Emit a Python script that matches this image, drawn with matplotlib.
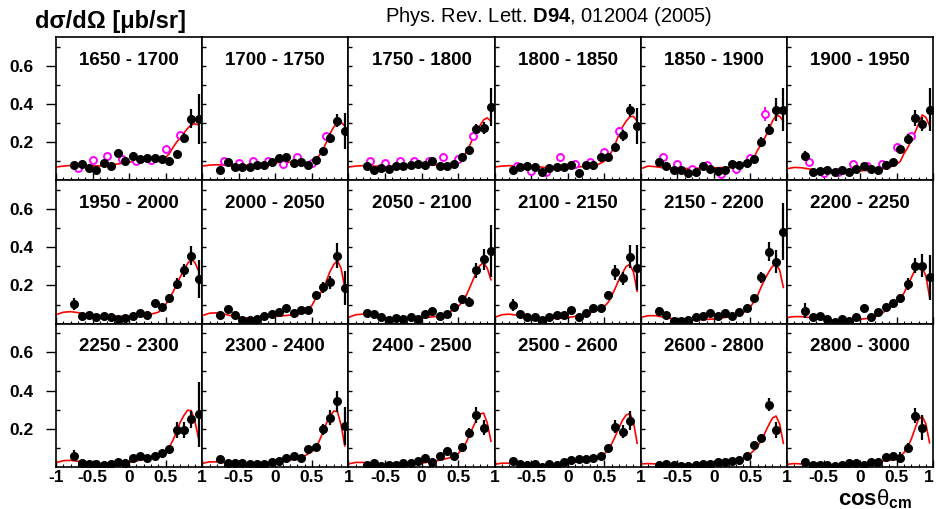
import matplotlib
matplotlib.use('Agg')
from matplotlib import pyplot as plt
import numpy as np

plt.rcParams['font.family'] = ['Liberation Sans', 'DejaVu Sans']
plt.rcParams['mathtext.fontset'] = 'custom'
plt.rcParams['mathtext.rm'] = 'Liberation Sans'
plt.rcParams['mathtext.it'] = 'Liberation Sans'
plt.rcParams['mathtext.bf'] = 'Liberation Sans:bold'
plt.rcParams['mathtext.default'] = 'regular'

bins = ['1650 - 1700', '1700 - 1750', '1750 - 1800', '1800 - 1850', '1850 - 1900', '1900 - 1950',
        '1950 - 2000', '2000 - 2050', '2050 - 2100', '2100 - 2150', '2150 - 2200', '2200 - 2250',
        '2250 - 2300', '2300 - 2400', '2400 - 2500', '2500 - 2600', '2600 - 2800', '2800 - 3000']

cos_pts = [-0.75, -0.65, -0.55, -0.45, -0.35, -0.25, -0.15, -0.05, 0.05, 0.15,
           0.25, 0.35, 0.45, 0.55, 0.65, 0.75, 0.85, 0.95]
mag_pts = [-0.7, -0.5, -0.3, -0.1, 0.1, 0.3, 0.5, 0.7]
curve_x = [-1.0, -0.9, -0.8, -0.7, -0.6, -0.5, -0.4, -0.3, -0.2, -0.1, 0.0, 0.1, 0.2,
           0.3, 0.4, 0.5, 0.55, 0.6, 0.65, 0.7, 0.75, 0.8, 0.85, 0.9, 0.95]

# black points (this measurement)
y01 = [0.082, 0.087, 0.064, 0.056, 0.090, 0.073, 0.144, 0.104, 0.130, 0.110, 0.115, 0.115, 0.110, 0.100, 0.140, 0.223, 0.322, 0.322]
y02 = [0.052, 0.096, 0.070, 0.070, 0.070, 0.078, 0.078, 0.096, 0.118, 0.122, 0.090, 0.096, 0.082, 0.108, 0.153, 0.223, 0.313, 0.258]
y03 = [0.075, 0.056, 0.066, 0.061, 0.075, 0.073, 0.078, 0.087, 0.078, 0.100, 0.075, 0.075, 0.087, 0.122, 0.157, 0.270, 0.275, 0.383]
y04 = [0.056, 0.070, 0.075, 0.070, 0.044, 0.064, 0.070, 0.070, 0.078, 0.040, 0.078, 0.082, 0.122, 0.122, 0.174, 0.235, 0.366, 0.284]
y05 = [0.096, 0.075, 0.057, 0.057, 0.040, 0.044, 0.073, 0.061, 0.049, 0.052, 0.084, 0.082, 0.090, 0.113, 0.200, 0.266, 0.371, 0.371]
y06 = [0.130, 0.044, 0.047, 0.056, 0.044, 0.052, 0.044, 0.061, 0.073, 0.061, 0.056, 0.078, 0.096, 0.162, 0.218, 0.327, 0.296, 0.371]
y07 = [0.103, 0.042, 0.047, 0.037, 0.038, 0.033, 0.024, 0.028, 0.042, 0.056, 0.047, 0.106, 0.089, 0.134, 0.210, 0.280, 0.355, 0.233]
y08 = [0.047, 0.077, 0.047, 0.021, 0.019, 0.024, 0.042, 0.050, 0.063, 0.080, 0.056, 0.073, 0.071, 0.151, 0.190, 0.216, 0.355, 0.186]
y09 = [0.054, 0.050, 0.033, 0.019, 0.030, 0.024, 0.033, 0.024, 0.050, 0.064, 0.042, 0.050, 0.089, 0.129, 0.115, 0.280, 0.338, 0.381]
y10 = [0.097, 0.050, 0.037, 0.033, 0.019, 0.033, 0.047, 0.047, 0.073, 0.033, 0.056, 0.082, 0.082, 0.151, 0.268, 0.238, 0.350, 0.294]
y11 = [0.064, 0.045, 0.016, 0.012, 0.019, 0.033, 0.038, 0.056, 0.042, 0.054, 0.038, 0.063, 0.080, 0.134, 0.242, 0.376, 0.325, 0.482]
y12 = [0.068, 0.033, 0.038, 0.024, 0.010, 0.024, 0.012, 0.037, 0.082, 0.037, 0.063, 0.085, 0.108, 0.134, 0.207, 0.303, 0.303, 0.242]
y13 = [0.059, 0.019, 0.014, 0.014, 0.010, 0.014, 0.024, 0.019, 0.045, 0.057, 0.045, 0.059, 0.071, 0.094, 0.193, 0.193, 0.249, 0.277]
y14 = [0.040, 0.019, 0.019, 0.023, 0.014, 0.014, 0.016, 0.028, 0.033, 0.045, 0.059, 0.045, 0.094, 0.103, 0.197, 0.259, 0.345, 0.214]
y15 = [0.010, 0.019, 0.007, 0.010, 0.010, 0.019, 0.019, 0.031, 0.049, 0.028, 0.057, 0.084, 0.057, 0.106, 0.179, 0.272, 0.205]
y16 = [0.031, 0.014, 0.010, 0.014, 0.002, 0.016, 0.010, 0.028, 0.037, 0.042, 0.042, 0.045, 0.059, 0.101, 0.211, 0.185, 0.242]
y17 = [0.010, 0.016, 0.010, 0.007, 0.007, 0.010, 0.014, 0.016, 0.028, 0.028, 0.031, 0.037, 0.059, 0.115, 0.153, 0.327, 0.193]
y18 = [0.028, 0.010, 0.010, 0.010, 0.007, 0.010, 0.023, 0.019, 0.010, 0.024, 0.024, 0.050, 0.057, 0.049, 0.101, 0.268, 0.205]

e01 = [0.015, 0.015, 0.012, 0.012, 0.015, 0.012, 0.018, 0.015, 0.018, 0.015, 0.015, 0.015, 0.015, 0.015, 0.02, 0.025, 0.05, 0.13]
e02 = [0.015, 0.015, 0.012, 0.012, 0.012, 0.012, 0.012, 0.015, 0.015, 0.015, 0.015, 0.015, 0.012, 0.015, 0.02, 0.025, 0.035, 0.095]
e03 = [0.012, 0.012, 0.012, 0.012, 0.012, 0.012, 0.012, 0.012, 0.012, 0.015, 0.012, 0.012, 0.012, 0.015, 0.02, 0.025, 0.03, 0.1]
e04 = [0.015, 0.012, 0.012, 0.012, 0.012, 0.012, 0.012, 0.012, 0.012, 0.012, 0.012, 0.012, 0.015, 0.015, 0.02, 0.03, 0.035, 0.095]
e05 = [0.02, 0.012, 0.012, 0.012, 0.012, 0.012, 0.012, 0.012, 0.012, 0.012, 0.012, 0.012, 0.015, 0.015, 0.025, 0.03, 0.06, 0.11]
e06 = [0.025, 0.012, 0.012, 0.012, 0.012, 0.012, 0.012, 0.012, 0.012, 0.012, 0.012, 0.012, 0.015, 0.02, 0.025, 0.04, 0.035, 0.11]
e07 = [0.03, 0.01, 0.01, 0.01, 0.01, 0.01, 0.01, 0.01, 0.01, 0.012, 0.012, 0.015, 0.015, 0.02, 0.03, 0.035, 0.05, 0.1]
e08 = [0.02, 0.015, 0.012, 0.01, 0.01, 0.01, 0.01, 0.01, 0.012, 0.012, 0.012, 0.012, 0.012, 0.02, 0.03, 0.035, 0.065, 0.09]
e09 = [0.015, 0.012, 0.01, 0.01, 0.01, 0.01, 0.01, 0.01, 0.012, 0.012, 0.012, 0.012, 0.015, 0.02, 0.025, 0.04, 0.055, 0.135]
e10 = [0.03, 0.012, 0.01, 0.01, 0.01, 0.01, 0.01, 0.01, 0.012, 0.012, 0.012, 0.015, 0.015, 0.02, 0.04, 0.035, 0.06, 0.12]
e11 = [0.025, 0.012, 0.01, 0.01, 0.01, 0.01, 0.01, 0.012, 0.01, 0.012, 0.01, 0.012, 0.015, 0.02, 0.03, 0.05, 0.06, 0.15]
e12 = [0.04, 0.012, 0.01, 0.01, 0.01, 0.01, 0.01, 0.01, 0.015, 0.01, 0.012, 0.015, 0.015, 0.02, 0.03, 0.04, 0.06, 0.12]
e13 = [0.03, 0.01, 0.01, 0.01, 0.01, 0.01, 0.01, 0.01, 0.01, 0.012, 0.01, 0.012, 0.015, 0.015, 0.04, 0.04, 0.045, 0.17]
e14 = [0.015, 0.01, 0.01, 0.01, 0.01, 0.01, 0.01, 0.01, 0.01, 0.01, 0.012, 0.01, 0.015, 0.015, 0.03, 0.04, 0.055, 0.1]
e15 = [0.01, 0.01, 0.01, 0.01, 0.01, 0.01, 0.01, 0.01, 0.012, 0.01, 0.012, 0.015, 0.012, 0.015, 0.025, 0.04, 0.04]
e16 = [0.015, 0.01, 0.01, 0.01, 0.01, 0.01, 0.01, 0.01, 0.01, 0.01, 0.01, 0.01, 0.012, 0.015, 0.035, 0.035, 0.05]
e17 = [0.01, 0.01, 0.01, 0.01, 0.01, 0.01, 0.01, 0.01, 0.01, 0.01, 0.01, 0.01, 0.012, 0.015, 0.02, 0.035, 0.04]
e18 = [0.015, 0.01, 0.01, 0.01, 0.01, 0.01, 0.01, 0.01, 0.01, 0.01, 0.01, 0.012, 0.012, 0.03, 0.025, 0.04, 0.065]

# magenta open circles (earlier data, first six bins)
m01 = [0.066, 0.108, 0.129, 0.111, 0.104, 0.108, 0.162, 0.235]
m02 = [0.100, 0.090, 0.100, 0.100, 0.087, 0.122, 0.092, 0.230]
m03 = [0.100, 0.090, 0.100, 0.100, 0.100, 0.122, 0.113, 0.230]
m04 = [0.073, 0.049, 0.044, 0.122, 0.087, 0.096, 0.148, 0.258]
m05 = [0.122, 0.084, 0.061, 0.078, 0.031, 0.061, 0.118, 0.348]
m06 = [0.096, 0.040, 0.044, 0.084, 0.075, 0.084, 0.174, 0.230]
me01 = [0.01, 0.01, 0.01, 0.01, 0.01, 0.01, 0.015, 0.02]
me02 = [0.01, 0.01, 0.01, 0.01, 0.015, 0.012, 0.012, 0.02]
me03 = [0.01, 0.01, 0.01, 0.01, 0.01, 0.012, 0.012, 0.02]
me04 = [0.01, 0.01, 0.01, 0.015, 0.01, 0.012, 0.015, 0.02]
me05 = [0.015, 0.01, 0.01, 0.01, 0.01, 0.01, 0.012, 0.035]
me06 = [0.015, 0.01, 0.01, 0.01, 0.01, 0.01, 0.015, 0.02]

# red model curves
c01 = [0.070, 0.075, 0.078, 0.078, 0.077, 0.076, 0.076, 0.078, 0.083, 0.090, 0.096, 0.102, 0.106, 0.108, 0.110, 0.120, 0.140, 0.172, 0.200, 0.223, 0.248, 0.272, 0.290, 0.296, 0.290]
c02 = [0.075, 0.080, 0.082, 0.080, 0.077, 0.076, 0.078, 0.080, 0.085, 0.090, 0.093, 0.095, 0.095, 0.093, 0.088, 0.095, 0.110, 0.130, 0.160, 0.200, 0.245, 0.280, 0.300, 0.305, 0.285]
c03 = [0.070, 0.075, 0.077, 0.076, 0.074, 0.073, 0.073, 0.075, 0.077, 0.079, 0.080, 0.081, 0.081, 0.080, 0.080, 0.090, 0.105, 0.140, 0.175, 0.218, 0.250, 0.287, 0.317, 0.327, 0.310]
c04 = [0.070, 0.075, 0.077, 0.076, 0.074, 0.072, 0.070, 0.068, 0.067, 0.067, 0.068, 0.070, 0.072, 0.075, 0.080, 0.100, 0.120, 0.150, 0.190, 0.240, 0.280, 0.310, 0.333, 0.335, 0.310]
c05 = [0.061, 0.075, 0.072, 0.066, 0.063, 0.062, 0.062, 0.063, 0.064, 0.065, 0.066, 0.067, 0.068, 0.070, 0.077, 0.095, 0.122, 0.160, 0.190, 0.225, 0.265, 0.310, 0.340, 0.335, 0.310]
c06 = [0.061, 0.068, 0.066, 0.060, 0.055, 0.052, 0.050, 0.049, 0.048, 0.049, 0.050, 0.052, 0.055, 0.060, 0.068, 0.085, 0.100, 0.140, 0.170, 0.210, 0.250, 0.296, 0.343, 0.330, 0.287]
c07 = [0.047, 0.060, 0.063, 0.058, 0.050, 0.045, 0.041, 0.039, 0.038, 0.038, 0.039, 0.041, 0.044, 0.050, 0.060, 0.100, 0.130, 0.165, 0.205, 0.245, 0.280, 0.315, 0.337, 0.320, 0.277]
c08 = [0.042, 0.055, 0.057, 0.050, 0.041, 0.034, 0.030, 0.030, 0.032, 0.035, 0.038, 0.041, 0.045, 0.050, 0.060, 0.095, 0.130, 0.150, 0.180, 0.225, 0.275, 0.310, 0.330, 0.290, 0.190]
c09 = [0.033, 0.047, 0.050, 0.047, 0.040, 0.033, 0.030, 0.029, 0.028, 0.029, 0.030, 0.034, 0.038, 0.045, 0.065, 0.090, 0.110, 0.140, 0.180, 0.225, 0.270, 0.305, 0.320, 0.290, 0.230]
c10 = [0.033, 0.047, 0.050, 0.045, 0.038, 0.030, 0.028, 0.027, 0.027, 0.029, 0.032, 0.038, 0.045, 0.055, 0.072, 0.090, 0.110, 0.145, 0.185, 0.230, 0.265, 0.300, 0.310, 0.270, 0.170]
c11 = [0.033, 0.042, 0.042, 0.035, 0.028, 0.022, 0.020, 0.019, 0.020, 0.022, 0.025, 0.030, 0.035, 0.042, 0.055, 0.090, 0.115, 0.150, 0.195, 0.235, 0.270, 0.300, 0.310, 0.280, 0.190]
c12 = [0.033, 0.037, 0.037, 0.033, 0.027, 0.021, 0.018, 0.017, 0.018, 0.020, 0.023, 0.028, 0.035, 0.055, 0.080, 0.110, 0.130, 0.160, 0.200, 0.240, 0.280, 0.298, 0.295, 0.250, 0.140]
c13 = [0.023, 0.033, 0.035, 0.030, 0.025, 0.020, 0.017, 0.016, 0.018, 0.021, 0.025, 0.032, 0.040, 0.048, 0.058, 0.080, 0.105, 0.140, 0.185, 0.235, 0.270, 0.297, 0.295, 0.240, 0.150]
c14 = [0.019, 0.027, 0.027, 0.022, 0.017, 0.014, 0.013, 0.013, 0.014, 0.017, 0.022, 0.028, 0.035, 0.045, 0.058, 0.080, 0.100, 0.135, 0.180, 0.230, 0.265, 0.293, 0.290, 0.220, 0.110]
c15 = [0.016, 0.024, 0.024, 0.020, 0.015, 0.012, 0.012, 0.012, 0.013, 0.015, 0.020, 0.026, 0.032, 0.040, 0.050, 0.070, 0.090, 0.120, 0.160, 0.205, 0.245, 0.278, 0.282, 0.230, 0.135]
c16 = [0.014, 0.020, 0.020, 0.015, 0.012, 0.011, 0.010, 0.011, 0.012, 0.015, 0.020, 0.025, 0.030, 0.038, 0.048, 0.068, 0.090, 0.120, 0.160, 0.205, 0.245, 0.272, 0.280, 0.235, 0.124]
c17 = [0.016, 0.018, 0.016, 0.013, 0.010, 0.009, 0.008, 0.009, 0.010, 0.012, 0.015, 0.019, 0.025, 0.033, 0.045, 0.070, 0.088, 0.110, 0.140, 0.180, 0.220, 0.255, 0.267, 0.225, 0.124]
c18 = [0.014, 0.018, 0.016, 0.013, 0.010, 0.009, 0.008, 0.009, 0.010, 0.012, 0.015, 0.019, 0.025, 0.030, 0.035, 0.045, 0.055, 0.075, 0.105, 0.145, 0.200, 0.250, 0.265, 0.225, 0.127]

ys = [y01, y02, y03, y04, y05, y06, y07, y08, y09, y10, y11, y12, y13, y14, y15, y16, y17, y18]
es = [e01, e02, e03, e04, e05, e06, e07, e08, e09, e10, e11, e12, e13, e14, e15, e16, e17, e18]
cs = [c01, c02, c03, c04, c05, c06, c07, c08, c09, c10, c11, c12, c13, c14, c15, c16, c17, c18]
ms = [m01, m02, m03, m04, m05, m06]
mes = [me01, me02, me03, me04, me05, me06]


def setupAxis(ax, row, col):
  ax.set_xlim(-1, 1)
  ax.set_ylim(0, 0.75)
  for s in ax.spines.values():
    s.set_linewidth(1.2)
  ax.set_xticks([-1, -0.5, 0, 0.5, 1])
  ax.set_xticks(np.arange(-0.9, 1.0, 0.1), minor=True)
  ax.tick_params(axis='x', which='major', direction='in', length=5, width=1, pad=2.5, labelsize=12.5)
  ax.tick_params(axis='x', which='minor', direction='in', length=2.5, width=0.8)
  if row == 2:
    if col == 0:
      ax.set_xticklabels(['-1', '-0.5', '0', '0.5', '1'], fontweight='bold')
    else:
      ax.set_xticklabels(['', '-0.5', '0', '0.5', '1'], fontweight='bold')
    if col == 5:
      # keep the last "1" inside the figure
      ax.get_xticklabels()[-1].set_horizontalalignment('right')
  else:
    ax.set_xticklabels([])
  if col == 0:
    ax.set_yticks([0.2, 0.4, 0.6])
    ax.set_yticks([0.1, 0.3, 0.5, 0.7], minor=True)
    ax.set_yticklabels(['0.2', '0.4', '0.6'], fontweight='bold')
    ax.tick_params(axis='y', which='major', direction='out', length=7, width=1, pad=9, labelsize=12.5)
  else:
    ax.set_yticks([0.1, 0.2, 0.3, 0.4, 0.5, 0.6, 0.7])
    ax.set_yticklabels([])
    ax.tick_params(axis='y', which='major', direction='in', length=3, width=1)
  ax.tick_params(axis='y', which='minor', direction='in', length=3, width=1)


fig = plt.figure(figsize=(9.36, 5.09), dpi=100)
left, pw = 56 / 936, 146.2 / 936
bottom, ph = 42 / 509, 143.3 / 509

for i in range(18):
  row, col = divmod(i, 6)
  ax = fig.add_axes([left + col * pw, bottom + (2 - row) * ph, pw, ph])
  setupAxis(ax, row, col)
  ax.plot(curve_x, cs[i], color='red', lw=1.2, zorder=1)
  if i < 6:
    ax.errorbar(mag_pts, ms[i], yerr=mes[i], fmt='o', ms=5, mfc='white', mec='magenta',
                mew=1.4, ecolor='magenta', elinewidth=1.4, capsize=0, zorder=2)
  n = len(ys[i])
  ax.errorbar(cos_pts[:n], ys[i], yerr=es[i], xerr=0.04, fmt='o', ms=5.5, color='black',
              elinewidth=1.6, capsize=0, zorder=3)
  ax.text(0.5, 0.84, bins[i], transform=ax.transAxes, ha='center', va='center',
          fontsize=13.5, fontweight='bold')

fig.text(35 / 936, 1 - 28 / 509, 'dσ/dΩ [μb/sr]', ha='left', va='baseline',
         fontsize=17, fontweight='bold')
fig.text(549 / 936, 1 - 22 / 509, r'Phys. Rev. Lett. $\mathbf{D94}$, 012004 (2005)',
         ha='center', va='baseline', fontsize=14.5)
fig.text(912 / 936, 1 - 505 / 509, r'$\mathbf{cos}\theta_{\mathbf{cm}}$', ha='right',
         va='baseline', fontsize=16)

fig.savefig('out.png', dpi=100)
